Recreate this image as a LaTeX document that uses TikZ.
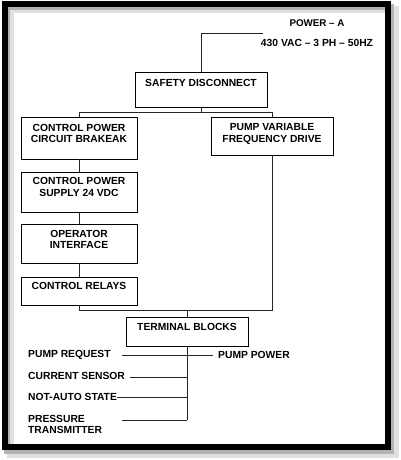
\documentclass[tikz,border=0pt]{standalone}
\usepackage{fontspec}
\setmainfont{Liberation Sans}
\usepackage{tikz}

\begin{document}
\begin{tikzpicture}[x=1pt, y=-1pt,
		blk/.style={draw, align=center, line width = 0.8pt, font=\bfseries\fontsize{10.3}{11.5}\selectfont, inner sep=1pt},
		lbl/.style={font=\bfseries\fontsize{10.3}{11}\selectfont, inner sep=0pt, align=left},
		wire/.style={line width = 0.8pt, black!85}
	]

	\useasboundingbox (0,0) rectangle (400,460);

	\draw[black!12, line width = 7pt] (10,10) rectangle (395,454);
	\draw[black!30, line width = 6.5pt] (7,7) rectangle (391,451);
	\draw[black, line width = 6.5pt] (5,4) rectangle (388,447);

	\node[lbl, font=\bfseries\fontsize{9.8}{11}\selectfont] (power) at (317,23) {POWER -- A};
	\node[lbl] (volt) at (317,43) {430 VAC -- 3 PH -- 50HZ};
	\coordinate (feed) at (263,33);

	\node[blk, minimum width=132pt, minimum height=35pt, text depth=14pt] (safety) at (201,89.5) {SAFETY DISCONNECT};

	\node[blk, minimum width=116pt, minimum height=42pt, text depth=9pt] (breaker) at (79,138) {CONTROL POWER\\CIRCUIT BRAKEAK};
	\node[blk, minimum width=122pt, minimum height=38pt, text depth=6pt] (vfd) at (272,136) {PUMP VARIABLE\\FREQUENCY DRIVE};
	\node[blk, minimum width=116pt, minimum height=40pt, text depth=10pt] (supply) at (79,192) {CONTROL POWER\\SUPPLY 24 VDC};
	\node[blk, minimum width=116pt, minimum height=39pt, text depth=8pt] (opi) at (79,243.5) {OPERATOR\\INTERFACE};
	\node[blk, minimum width=116pt, minimum height=28pt, text depth=10pt] (relays) at (79,291) {CONTROL RELAYS};
	\node[blk, minimum width=122pt, minimum height=29pt, text depth=9pt] (terminal) at (187,331.5) {TERMINAL BLOCKS};

	\draw[wire] (feed) -| (safety.north);
	\draw[wire] (safety.south) -- ++(0,5) -| (breaker.north);
	\draw[wire] (safety.south) -- ++(0,5) -| (vfd.north);
	\draw[wire] (breaker) -- (supply);
	\draw[wire] (supply) -- (opi);
	\draw[wire] (opi) -- (relays);
	\draw[wire] (relays.south) |- (terminal.north |- 0,310) -- (terminal.north);
	\draw[wire] (vfd.south) |- (terminal.north |- 0,310);

	\node[lbl, anchor=west] (request) at (28,355) {PUMP REQUEST};
	\node[lbl, anchor=west] (pumppower) at (218,355) {PUMP POWER};
	\node[lbl, anchor=west] (current) at (28,376) {CURRENT SENSOR};
	\node[lbl, anchor=west] (notauto) at (28,397) {NOT-AUTO STATE};
	\node[lbl, anchor=west] (pressure) at (28,424) {PRESSURE\\TRANSMITTER};

	\coordinate (trunk) at (terminal.south |- 0,420);
	\coordinate (reqend) at (122,355);
	\coordinate (powend) at (213,355);
	\coordinate (curend) at (130,377);
	\coordinate (presend) at (122,420);

	\draw[wire] (terminal.south) -- (trunk);
	\draw[wire] (reqend) -- (powend);
	\draw[wire] (curend) -- (curend -| trunk);
	\draw[wire] (notauto.east) -- (notauto.east -| trunk);
	\draw[wire] (presend) -- (trunk);

\end{tikzpicture}
\end{document}
